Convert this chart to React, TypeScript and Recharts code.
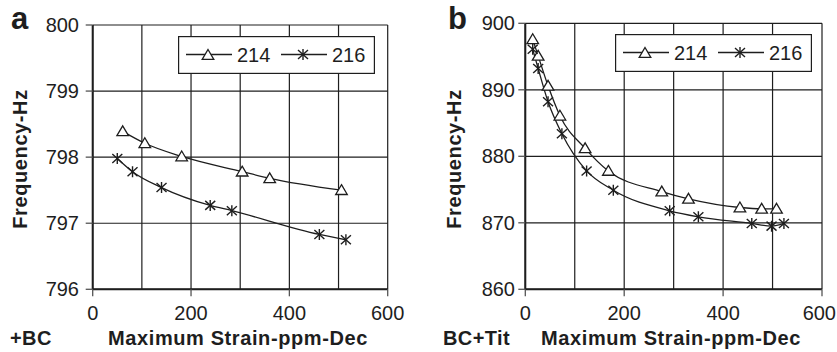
import React from 'react';
import { LineChart, Line, XAxis, YAxis, CartesianGrid, Legend } from 'recharts';

// ---- Data ----
const seriesNames = ['214', '216'];

// Panel a (+BC)
const aStrain214 = [61, 106, 181, 304, 360, 506];
const aFreq214 = [798.39, 798.21, 798.01, 797.78, 797.68, 797.5];
const aStrain216 = [50, 81, 140, 239, 283, 461, 515];
const aFreq216 = [797.98, 797.78, 797.54, 797.27, 797.19, 796.83, 796.75];
const aYTicks = [796, 797, 798, 799, 800];

// Panel b (BC+Tit)
const bStrain214 = [15, 26, 46, 70, 121, 168, 276, 330, 434, 478, 508];
const bFreq214 = [897.6, 895.1, 890.6, 886.1, 881.2, 877.8, 874.7, 873.6, 872.3, 872.1, 872.1];
const bStrain216 = [15, 26, 46, 74, 124, 178, 292, 350, 458, 498, 523];
const bFreq216 = [896.1, 893.2, 888.2, 883.4, 877.8, 874.9, 871.8, 870.9, 869.9, 869.5, 869.9];
const bYTicks = [860, 870, 880, 890, 900];

const xTicks = [0, 200, 400, 600];
const xGrid = [0, 100, 200, 300, 400, 500, 600];
const panelLetters = ['a', 'b'];
const panelTags = ['+BC', 'BC+Tit'];
const xTitle = 'Maximum Strain-ppm-Dec';
const yTitle = 'Frequency-Hz';

const zip = (xs: number[], ys: number[]) => xs.map((x, i) => ({ x, y: ys[i] }));

const FONT = '"Liberation Sans", Arial, Helvetica, sans-serif';
const INK = '#1e1e1e';

const Triangle = ({ cx, cy }: any) => (
  <path
    d={`M${cx},${cy - 5.5} L${cx + 5.8},${cy + 4.3} L${cx - 5.8},${cy + 4.3} Z`}
    fill="#fff"
    stroke={INK}
    strokeWidth={1.3}
  />
);

const Star = ({ cx, cy }: any) => (
  <g stroke={INK} strokeWidth={1.4}>
    <line x1={cx} y1={cy - 5.5} x2={cx} y2={cy + 5.5} />
    <line x1={cx - 5} x2={cx + 5} y1={cy - 4.5} y2={cy + 4.5} />
    <line x1={cx - 5} x2={cx + 5} y1={cy + 4.5} y2={cy - 4.5} />
  </g>
);

const LegendBox = () => (
  <svg width={197} height={38} style={{ display: 'block', overflow: 'visible' }}>
    <rect x={0.6} y={0.6} width={195.8} height={36.8} fill="#fff" stroke={INK} strokeWidth={1.2} />
    <line x1={8} x2={54} y1={18.5} y2={18.5} stroke={INK} strokeWidth={1.3} />
    <Triangle cx={30} cy={19} />
    <text x={59} y={25.5} fontSize={20} fontFamily={FONT} fill={INK}>{seriesNames[0]}</text>
    <line x1={103} x2={149} y1={18.5} y2={18.5} stroke={INK} strokeWidth={1.3} />
    <Star cx={125} cy={18.5} />
    <text x={154} y={25.5} fontSize={20} fontFamily={FONT} fill={INK}>{seriesNames[1]}</text>
  </svg>
);

const makeXTick = (chartWidth: number) => (props: any) => {
  const { x, y, payload } = props;
  const label = String(payload.value);
  const halfW = label.length * 5.6;
  const overflow = x + halfW > chartWidth - 1;
  return (
    <text
      x={overflow ? chartWidth - 1 : x}
      y={y}
      dy="0.71em"
      textAnchor={overflow ? 'end' : 'middle'}
      fontSize={20}
      fontFamily={FONT}
      fill={INK}
    >
      {label}
    </text>
  );
};

type PanelProps = {
  left: number;
  width: number;
  margin: { top: number; right: number; bottom: number; left: number };
  yWidth: number;
  yTickMargin: number;
  yDomain: number[];
  yTicks: number[];
  s214: { x: number; y: number }[];
  s216: { x: number; y: number }[];
  letter: string;
  letterX: number;
  letterY: number;
  tag: string;
  tagX: number;
  yTitleX: number;
  xTitleX: number;
  legendLeft: number;
  legendTop: number;
};

const Panel = (p: PanelProps) => (
  <div style={{ position: 'absolute', left: p.left, top: 0 }}>
    <LineChart width={p.width} height={352} margin={p.margin}>
      <CartesianGrid
        stroke={INK}
        strokeWidth={1.2}
        verticalValues={xGrid}
        horizontalValues={p.yTicks}
      />
      <XAxis
        type="number"
        dataKey="x"
        domain={[0, 600]}
        ticks={xTicks}
        interval={0}
        height={30}
        tickSize={7}
        tickMargin={9}
        axisLine={{ stroke: INK, strokeWidth: 2 }}
        tickLine={{ stroke: '#555', strokeWidth: 1.3 }}
        tick={makeXTick(p.width)}
        allowDataOverflow
        label={() => (
          <g>
            <text x={p.tagX} y={345} fontSize={20} fontWeight="bold" fontFamily={FONT} fill={INK} letterSpacing={0.4}>
              {p.tag}
            </text>
            <text x={p.xTitleX} y={345} textAnchor="middle" fontSize={20} fontWeight="bold" fontFamily={FONT} fill={INK} letterSpacing={0.6}>
              {xTitle}
            </text>
            <text x={p.letterX} y={p.letterY} fontSize={31} fontWeight="bold" fontFamily={FONT} fill={INK}>
              {p.letter}
            </text>
          </g>
        )}
      />
      <YAxis
        type="number"
        domain={p.yDomain}
        ticks={p.yTicks}
        interval={0}
        width={p.yWidth}
        tickSize={7}
        tickMargin={p.yTickMargin}
        axisLine={{ stroke: INK, strokeWidth: 2 }}
        tickLine={{ stroke: '#555', strokeWidth: 1.3 }}
        tick={{ fontSize: 20, fill: INK, fontFamily: FONT }}
        allowDataOverflow
        label={() => (
          <text
            x={p.yTitleX}
            y={159}
            textAnchor="middle"
            transform={`rotate(-90 ${p.yTitleX} 159)`}
            fontSize={20}
            fontWeight="bold"
            fontFamily={FONT}
            fill={INK}
            letterSpacing={0.6}
          >
            {yTitle}
          </text>
        )}
      />
      <Legend
        layout="horizontal"
        verticalAlign="middle"
        align="center"
        wrapperStyle={{ position: 'absolute', left: p.legendLeft, top: p.legendTop, width: 197, height: 38 }}
        content={() => <LegendBox />}
      />
      <Line
        data={p.s214}
        dataKey="y"
        name={seriesNames[0]}
        type="monotone"
        stroke={INK}
        strokeWidth={1.3}
        isAnimationActive={false}
        dot={(d: any) => <Triangle key={`t${d.index}`} cx={d.cx} cy={d.cy} />}
      />
      <Line
        data={p.s216}
        dataKey="y"
        name={seriesNames[1]}
        type="monotone"
        stroke={INK}
        strokeWidth={1.3}
        isAnimationActive={false}
        dot={(d: any) => <Star key={`s${d.index}`} cx={d.cx} cy={d.cy} />}
      />
    </LineChart>
  </div>
);

export default function App() {
  return (
    <div style={{ position: 'absolute', left: 0, top: 0, width: 837, height: 352, background: '#fff', overflow: 'hidden' }}>
      <Panel
        left={0}
        width={420}
        margin={{ top: 25, right: 32.3, bottom: 32.7, left: 12.7 }}
        yWidth={80}
        yTickMargin={6.7}
        yDomain={[796, 800]}
        yTicks={aYTicks}
        s214={zip(aStrain214, aFreq214)}
        s216={zip(aStrain216, aFreq216)}
        letter={panelLetters[0]}
        letterX={11}
        letterY={29}
        tag={panelTags[0]}
        tagX={10}
        yTitleX={27}
        xTitleX={238}
        legendLeft={178}
        legendTop={36}
      />
      <Panel
        left={420}
        width={417}
        margin={{ top: 23.3, right: 15, bottom: 32.7, left: 25.3 }}
        yWidth={80}
        yTickMargin={3.3}
        yDomain={[860, 900]}
        yTicks={bYTicks}
        s214={zip(bStrain214, bFreq214)}
        s216={zip(bStrain216, bFreq216)}
        letter={panelLetters[1]}
        letterX={28}
        letterY={29}
        tag={panelTags[1]}
        tagX={23}
        yTitleX={41}
        xTitleX={251}
        legendLeft={194.7}
        legendTop={34}
      />
    </div>
  );
}
